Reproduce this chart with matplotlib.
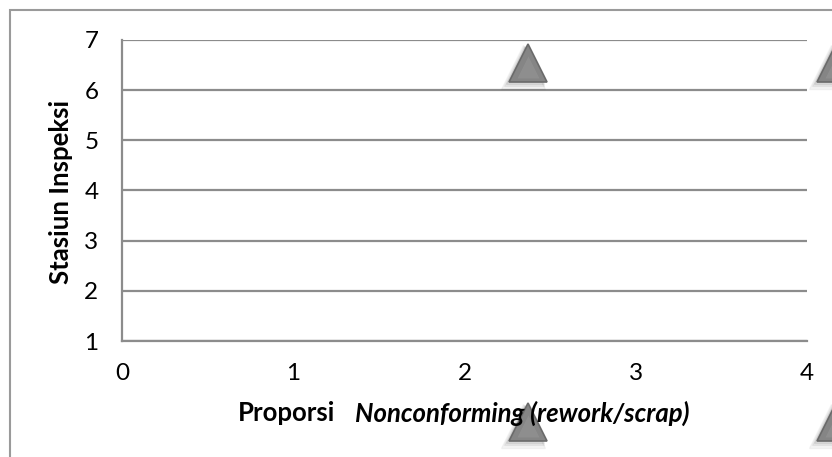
import matplotlib.pyplot as plt
import matplotlib.transforms as mtransforms
from matplotlib.patches import Rectangle

# Data points (proporsi, stasiun)
proporsi = [2.37, 4.17, 2.37, 4.17]
stasiun = [6.55, 6.55, -0.62, -0.62]

x_ticks = [0, 1, 2, 3, 4]
y_ticks = [1, 2, 3, 4, 5, 6, 7]

plt.rcParams["font.family"] = ["Lato", "DejaVu Sans"]

W, H = 832, 457
fig = plt.figure(figsize=(W / 100, H / 100), dpi=100)
ax = fig.add_axes([122 / W, 116 / H, 685 / W, 301 / H])

grid_col = "#8c8c8c"
ax.set_xlim(0, 4)
ax.set_ylim(1, 7)
ax.set_xticks(x_ticks)
ax.set_yticks(y_ticks)
ax.grid(axis="y", color=grid_col, linewidth=1.6)
ax.set_axisbelow(True)
for side in ["top", "right"]:
    ax.spines[side].set_visible(False)
for side in ["left", "bottom"]:
    ax.spines[side].set_color(grid_col)
    ax.spines[side].set_linewidth(1.6)
ax.tick_params(axis="both", length=0, labelsize=17.5, colors="black")
ax.tick_params(axis="y", pad=17)
ax.tick_params(axis="x", pad=16)

label_size = 18.5
fig.text(61 / W, 1 - 192 / H, "Stasiun Inspeksi", fontsize=label_size,
         fontweight="bold", rotation=90, ha="center", va="center")

# blurred drop shadow under the triangles
for i, a in enumerate([0.05, 0.07, 0.09, 0.11]):
    off = mtransforms.offset_copy(ax.transData, fig=fig, x=-5 + i, y=-4 + i, units="dots")
    ax.plot(proporsi, stasiun, linestyle="none", marker="^", markersize=31 - 2 * i,
            color="#404040", alpha=a, transform=off, clip_on=False, zorder=3)

ax.plot(proporsi, stasiun, linestyle="none", marker="^", markersize=28,
        markerfacecolor="#858585", markeredgecolor="#6a6a6a", markeredgewidth=1.2,
        clip_on=False, zorder=4)
inner = mtransforms.offset_copy(ax.transData, fig=fig, x=0, y=-4, units="dots")
ax.plot(proporsi, stasiun, linestyle="none", marker="^", markersize=16,
        markerfacecolor="#939393", markeredgecolor="none", alpha=0.7,
        transform=inner, clip_on=False, zorder=5)

# x label: plain bold part + bold italic part, centered under the axis
yl = 413 / H
t1 = fig.text(0, 1 - yl, "Proporsi", fontsize=label_size, fontweight="bold", va="center")
t2 = fig.text(0, 1 - yl, "Nonconforming (rework/scrap)", fontsize=label_size,
              fontweight="bold", style="italic", va="center")
r = fig.canvas.get_renderer()
w1 = t1.get_window_extent(r).width
w2 = t2.get_window_extent(r).width
gap = 20
x0 = 464 - (w1 + gap + w2) / 2
t1.set_x(x0 / W)
t2.set_x((x0 + w1 + gap) / W)

# chart area border
fig.add_artist(Rectangle((10 / W, -0.2), 1.2, 1.2 - 10 / H, transform=fig.transFigure,
                         fill=False, edgecolor="#9a9a9a", linewidth=1.5))

fig.savefig("out.png", dpi=100)
